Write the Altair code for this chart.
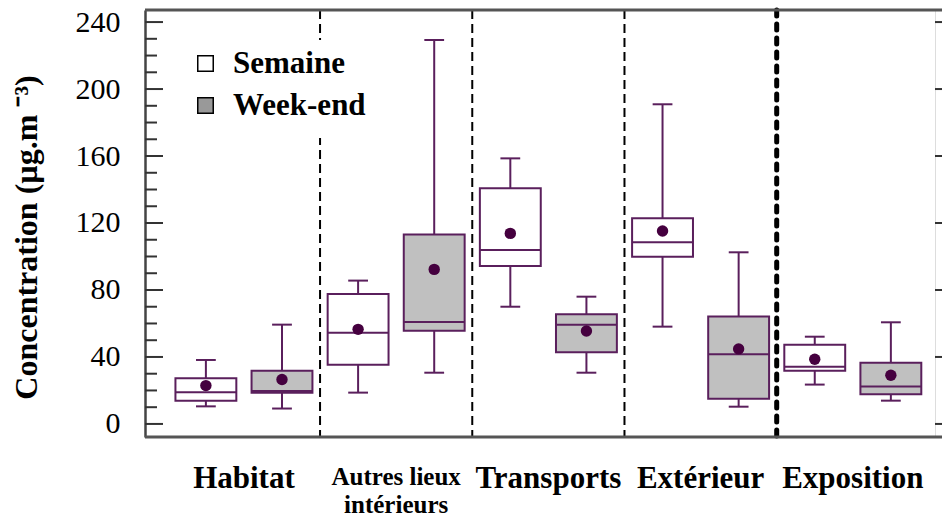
import altair as alt
import pandas as pd

categories = ["Habitat", "Autres lieux\nintérieurs", "Transports", "Extérieur", "Exposition"]
series = ["Semaine", "Week-end"]

# one value per box: Habitat S, Habitat WE, Autres S, Autres WE, ...
whisker_low = [10.5, 9.2, 18.7, 30.6, 70.0, 30.6, 58.1, 10.3, 23.5, 13.9]
q1 = [13.9, 18.7, 35.4, 55.7, 94.3, 42.8, 99.9, 15.1, 31.8, 17.7]
median = [18.9, 19.6, 54.5, 60.9, 103.9, 59.3, 108.5, 41.6, 34.2, 22.3]
q3 = [27.3, 31.8, 77.6, 113.2, 140.7, 65.5, 122.8, 64.1, 47.3, 36.6]
whisker_high = [38.2, 59.3, 85.6, 229.3, 158.6, 76.0, 190.9, 102.5, 52.1, 60.7]
mean = [22.9, 26.5, 56.5, 92.3, 113.8, 55.5, 115.2, 44.8, 38.6, 29.1]

major_ticks = [0, 40, 80, 120, 160, 200, 240]
minor_ticks = [10, 20, 30, 50, 60, 70, 90, 100, 110, 130, 140, 150, 170, 180, 190, 210, 220, 230]

rows = []
for ci, cat in enumerate(categories):
    for si, s in enumerate(series):
        k = 2 * ci + si
        rows.append(dict(category=cat, series=s, pos=k, lo=whisker_low[k], q1=q1[k],
                         med=median[k], q3=q3[k], hi=whisker_high[k], mean=mean[k]))
df = pd.DataFrame(rows)

lab_df = pd.DataFrame({"label": categories, "xc": [2 * i + 0.5 for i in range(len(categories))]})
sep_df = pd.DataFrame({"pos": [2 * i + 1.5 for i in range(len(categories) - 1)]})
major_df = pd.DataFrame({"v": major_ticks})
minor_df = pd.DataFrame({"v": minor_ticks})
one = pd.DataFrame({"k": [0]})

W, H = 790, 427
FONT = "Liberation Serif"
PURPLE = "#5a1f5c"
DOT = "#45003f"
FRAME = "#444444"

xs = alt.Scale(domain=[-0.8, 9.58], nice=False, zero=False)
ys = alt.Scale(domain=[-7.8, 247.2], nice=False, zero=False)

AX = alt.Axis(
    values=major_ticks, ticks=False, tickSize=0, grid=False,
    domainColor=FRAME, domainWidth=2.5,
    labelFont=FONT, labelFontSize=30, labelColor="black", labelPadding=25,
    title="Concentration (µg.m ⁻³)", titleFont=FONT, titleFontSize=32,
    titleFontWeight="bold", titleColor="black", titleAngle=270,
    titleBaseline="alphabetic", titleAlign="center", titleX=-109, titleY=227)

X = lambda f: alt.X(f, scale=xs, axis=None)
Y = lambda f: alt.Y(f, scale=ys, axis=AX)

base = alt.Chart(df).transform_calculate(
    xl="datum.pos - 0.4", xr="datum.pos + 0.4",
    cl="datum.pos - 0.13", cr="datum.pos + 0.13")

seps = alt.Chart(sep_df).transform_filter("datum.pos < 7").mark_rule(
    color="black", strokeWidth=2, strokeDash=[9, 5]).encode(
    x=X("pos:Q"), y=alt.value(0), y2=alt.value(H))
sep_thick = alt.Chart(sep_df).transform_filter("datum.pos > 7").mark_rule(
    color="black", strokeWidth=5, strokeDash=[6, 8], strokeCap="round").encode(
    x=X("pos:Q"), y=alt.value(0), y2=alt.value(H))
legend_bg = alt.Chart(one).mark_rect(fill="white").encode(
    x=alt.value(35), x2=alt.value(240), y=alt.value(30), y2=alt.value(128))

whisk_top = base.mark_rule(color=PURPLE, strokeWidth=2).encode(
    x=X("pos:Q"), y=Y("q3:Q"), y2="hi:Q")
whisk_bot = base.mark_rule(color=PURPLE, strokeWidth=2).encode(
    x=X("pos:Q"), y=Y("lo:Q"), y2="q1:Q")
cap_top = base.mark_rule(color=PURPLE, strokeWidth=2).encode(
    x=X("cl:Q"), x2="cr:Q", y=Y("hi:Q"))
cap_bot = base.mark_rule(color=PURPLE, strokeWidth=2).encode(
    x=X("cl:Q"), x2="cr:Q", y=Y("lo:Q"))

boxes = base.mark_rect(stroke=PURPLE, strokeWidth=2).encode(
    x=X("xl:Q"), x2="xr:Q", y=Y("q1:Q"), y2="q3:Q",
    fill=alt.Fill("series:N", scale=alt.Scale(domain=series, range=["white", "#c0c0c0"]),
                  legend=None))
medians = base.mark_rule(color=PURPLE, strokeWidth=2).encode(
    x=X("xl:Q"), x2="xr:Q", y=Y("med:Q"))
dots = base.mark_circle(color=DOT, opacity=1, size=130).encode(
    x=X("pos:Q"), y=Y("mean:Q"))

legend_layer = base.mark_square(opacity=0).encode(
    x=X("pos:Q"), y=Y("med:Q"),
    fill=alt.Fill("series:N", scale=alt.Scale(domain=series, range=["white", "#999999"]),
                  legend=alt.Legend(
                      orient="none", legendX=35, legendY=28, title=None,
                      symbolType="square", symbolSize=240, symbolStrokeColor="black",
                      symbolStrokeWidth=1.5, symbolOpacity=1,
                      labelFont=FONT, labelFontSize=31, labelFontWeight="bold",
                      labelColor="black", labelOffset=12, labelLimit=0,
                      rowPadding=10, padding=10)))

top_border = alt.Chart(one).mark_rule(color="#555555", strokeWidth=3).encode(
    x=alt.value(0), x2=alt.value(W + 7), y=alt.value(0))
bot_border = alt.Chart(one).mark_rule(color="#555555", strokeWidth=3).encode(
    x=alt.value(0), x2=alt.value(W + 7), y=alt.value(H))

left_major = alt.Chart(major_df).mark_rule(color="#333333", strokeWidth=2).encode(
    x=alt.value(0), x2=alt.value(18), y=Y("v:Q"))
left_minor = alt.Chart(minor_df).mark_rule(color="#333333", strokeWidth=2).encode(
    x=alt.value(0), x2=alt.value(12), y=Y("v:Q"))
right_major = alt.Chart(major_df).mark_rule(color="#333333", strokeWidth=2).encode(
    x=alt.value(W), x2=alt.value(W + 7), y=Y("v:Q"))

labels_main = alt.Chart(lab_df).transform_filter("indexof(datum.label, '\\n') < 0").mark_text(
    font=FONT, fontSize=31, fontWeight="bold", color="black", align="center",
    baseline="alphabetic").encode(x=X("xc:Q"), y=alt.value(H + 51), text="label:N")
labels_multi = alt.Chart(lab_df).transform_filter("indexof(datum.label, '\\n') >= 0").mark_text(
    font=FONT, fontSize=25, fontWeight="bold", color="black", align="center",
    baseline="alphabetic", lineBreak="\n", lineHeight=28).encode(
    x=X("xc:Q"), y=alt.value(H + 48), text="label:N")

chart = alt.layer(
    seps, sep_thick, legend_bg, legend_layer,
    whisk_top, whisk_bot, boxes, medians, cap_top, cap_bot, dots,
    top_border, bot_border, left_major, left_minor, right_major,
    labels_main, labels_multi,
).resolve_scale(fill="independent").properties(
    width=W, height=H,
    autosize=alt.AutoSizeParams(type="none"),
    padding={"left": 145, "top": 10, "right": 7, "bottom": 81},
).configure_view(stroke=None).configure(background="white")

chart.save("out.html", embed_options={"renderer": "svg", "actions": False})
